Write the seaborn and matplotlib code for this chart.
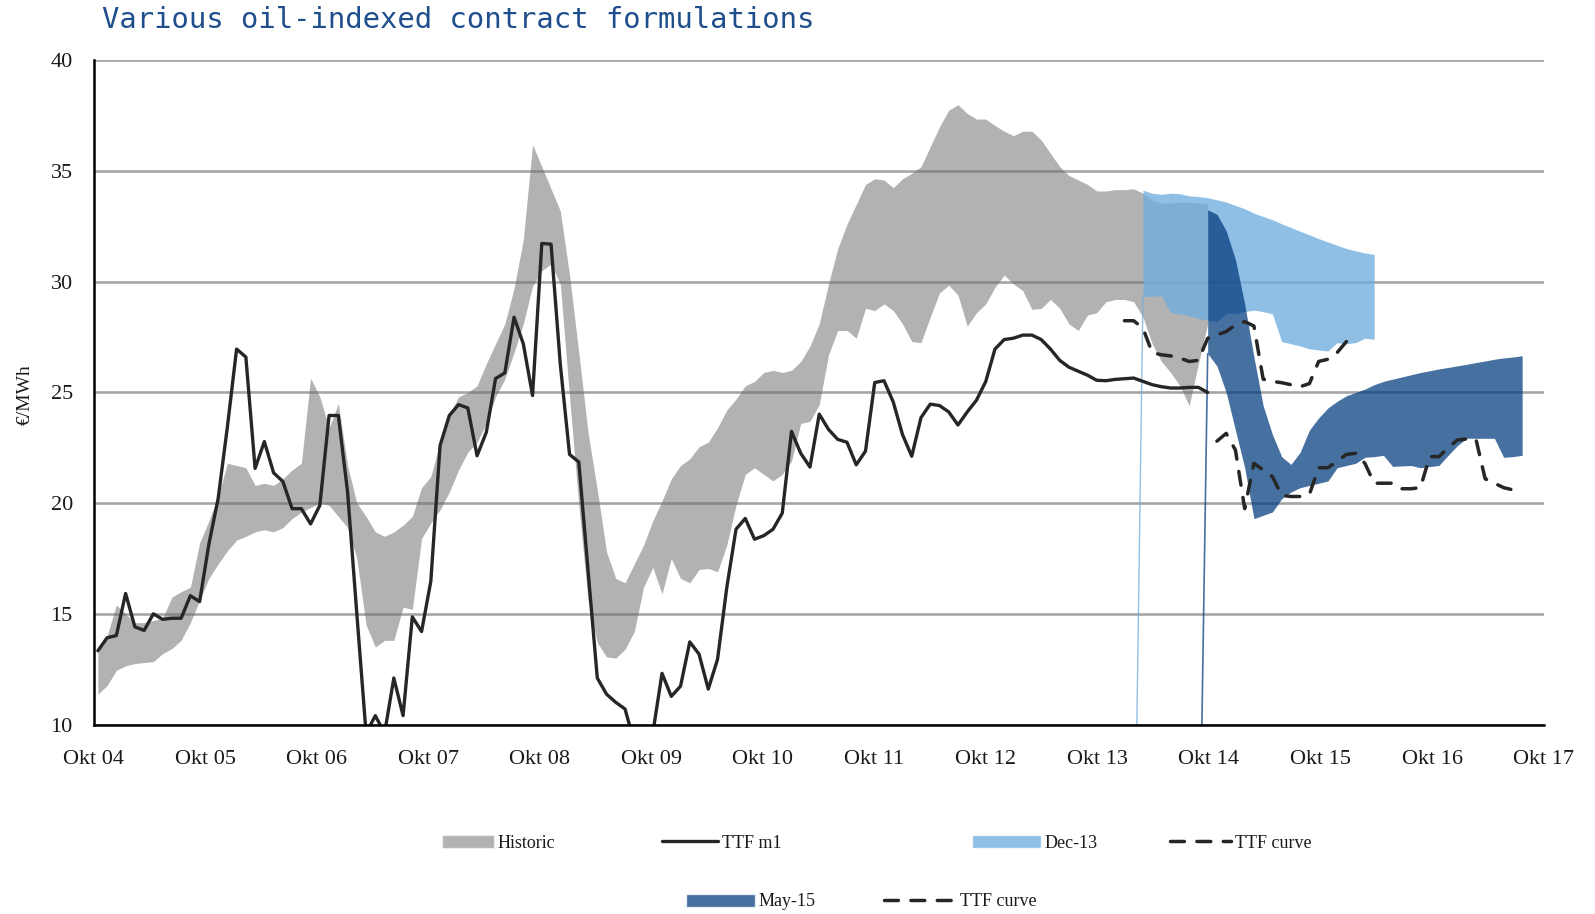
import numpy as np
import pandas as pd
import seaborn as sns
import matplotlib
matplotlib.use("Agg")
import matplotlib.pyplot as plt
from matplotlib.patches import Patch
from matplotlib.lines import Line2D

# month index 0 = October 2004, one value per month
year_labels = ["Okt 04", "Okt 05", "Okt 06", "Okt 07", "Okt 08", "Okt 09", "Okt 10",
               "Okt 11", "Okt 12", "Okt 13", "Okt 14", "Okt 15", "Okt 16", "Okt 17"]

historic_start = 0
historic_high = [
    13.4, 14.0, 15.4, 15.0, 14.6, 14.6, 14.7, 14.8, 15.75, 16.0,
    16.2, 18.2, 19.2, 20.3, 21.8, 21.7, 21.6, 20.8, 20.9, 20.8,
    21.1, 21.5, 21.8, 25.65, 24.8, 23.4, 24.5, 21.7, 20.0, 19.4,
    18.7, 18.5, 18.7, 19.0, 19.4, 20.7, 21.2, 22.75, 24.0, 24.8,
    25.0, 25.3, 26.3, 27.2, 28.1, 29.7, 31.9, 36.2, 35.2, 34.2,
    33.2, 30.3, 26.8, 23.2, 20.6, 17.8, 16.6, 16.4, 17.25, 18.1,
    19.2, 20.1, 21.1, 21.7, 22.0, 22.55, 22.75, 23.4, 24.2, 24.7,
    25.3, 25.5, 25.9, 26.0, 25.9, 26.0, 26.4, 27.1, 28.1, 29.9,
    31.5, 32.6, 33.5, 34.4, 34.65, 34.6, 34.25, 34.65, 34.9, 35.2,
    36.1, 37.0, 37.75, 38.0, 37.6, 37.35, 37.35, 37.06, 36.8, 36.6,
    36.8, 36.8, 36.4, 35.8, 35.2, 34.8, 34.6, 34.4, 34.1, 34.1,
    34.16, 34.16, 34.2, 34.0, 33.7, 33.55, 33.55, 33.6, 33.6, 33.55,
    33.5]
historic_low = [
    11.37, 11.76, 12.45, 12.65, 12.75, 12.8, 12.84, 13.2, 13.43, 13.8,
    14.6, 15.6, 16.6, 17.25, 17.84, 18.33, 18.5, 18.7, 18.8, 18.7,
    18.9, 19.3, 19.6, 19.8, 20.0, 19.9, 19.4, 18.9, 17.5, 14.5,
    13.5, 13.8, 13.8, 15.3, 15.2, 18.4, 19.1, 19.7, 20.5, 21.5,
    22.3, 22.75, 23.6, 24.8, 25.6, 26.8, 28.1, 29.8, 30.5, 30.8,
    29.9, 24.8, 19.9, 15.6, 13.7, 13.05, 13.0, 13.4, 14.2, 16.2,
    17.1, 15.9, 17.5, 16.6, 16.4, 17.0, 17.05, 16.9, 18.1, 19.9,
    21.3, 21.6, 21.3, 21.0, 21.3, 21.9, 23.6, 23.7, 24.45, 26.7,
    27.8, 27.8, 27.45, 28.8, 28.7, 29.0, 28.7, 28.1, 27.3, 27.25,
    28.4, 29.5, 29.84, 29.4, 28.0, 28.6, 29.0, 29.75, 30.3, 29.9,
    29.6, 28.75, 28.8, 29.2, 28.8, 28.1, 27.8, 28.5, 28.6, 29.1,
    29.2, 29.2, 29.1, 28.4, 27.2, 26.4, 25.9, 25.3, 24.4, 26.3,
    28.1]

ttf_m1_start = 0
ttf_m1 = [
    13.33, 13.92, 14.02, 15.92, 14.41, 14.25, 15.0, 14.75, 14.8, 14.8,
    15.82, 15.55, 18.14, 20.2, 23.43, 26.96, 26.6, 21.57, 22.78, 21.37,
    20.98, 19.75, 19.75, 19.06, 19.9, 23.96, 23.96, 20.5, 15.0, 9.6,
    10.4, 9.6, 12.1, 10.4, 14.86, 14.2, 16.47, 22.6, 23.96, 24.45,
    24.3, 22.14, 23.2, 25.63, 25.88, 28.4, 27.2, 24.86, 31.73, 31.7,
    26.27, 22.2, 21.86, 16.96, 12.1, 11.37, 11.0, 10.7, 9.2, 8.8,
    9.6, 12.31, 11.27, 11.73, 13.73, 13.18, 11.6, 12.94, 16.18, 18.82,
    19.31, 18.37, 18.53, 18.82, 19.55, 23.24, 22.25, 21.63, 24.02, 23.33,
    22.88, 22.75, 21.73, 22.35, 25.45, 25.53, 24.57, 23.1, 22.12, 23.86,
    24.47, 24.41, 24.12, 23.53, 24.12, 24.65, 25.49, 26.96, 27.39, 27.45,
    27.59, 27.59, 27.39, 26.96, 26.45, 26.14, 25.96, 25.78, 25.55, 25.53,
    25.59, 25.62, 25.65, 25.5, 25.35, 25.26, 25.2, 25.2, 25.23, 25.23,
    25.0]

dec13_start = 113
dec13_high = [34.14, 34.0, 33.95, 34.0, 33.98, 33.88, 33.85, 33.8, 33.7, 33.6,
              33.45, 33.3, 33.1, 32.95, 32.8, 32.62, 32.45, 32.28, 32.12, 31.95,
              31.8, 31.65, 31.5, 31.4, 31.3, 31.24]
dec13_low = [29.33, 29.35, 29.36, 28.6, 28.55, 28.45, 28.35, 28.27, 28.2, 28.57,
             28.57, 28.65, 28.72, 28.65, 28.55, 27.3, 27.2, 27.1, 26.97, 26.92,
             26.87, 27.25, 27.2, 27.25, 27.45, 27.4]

curve_dec13_start = 111
curve_dec13 = [28.24, 28.24, 27.9, 26.8, 26.7, 26.65, 26.55, 26.4, 26.45, 27.45,
               27.6, 27.75, 28.05, 28.2, 28.0, 25.6, 25.5, 25.44, 25.35, 25.26,
               25.4, 26.4, 26.5, 26.8, 27.3]

may15_start = 120
may15_high = [33.25, 33.05, 32.3, 31.0, 29.0, 26.6, 24.4, 23.1, 22.1, 21.75,
              22.3, 23.3, 23.85, 24.3, 24.6, 24.85, 25.0, 25.15, 25.35, 25.5,
              25.6, 25.7, 25.8, 25.9, 25.98, 26.06, 26.13, 26.2, 26.27, 26.35,
              26.42, 26.5, 26.56, 26.6, 26.66]
may15_low = [26.75, 26.2, 25.0, 23.3, 21.6, 19.3, 19.45, 19.6, 20.2, 20.5,
             20.7, 20.8, 20.9, 21.0, 21.6, 21.7, 21.8, 22.07, 22.1, 22.16,
             21.66, 21.68, 21.7, 21.6, 21.65, 21.7, 22.16, 22.6, 22.93, 22.93,
             22.93, 22.93, 22.07, 22.1, 22.16]

curve_may15_start = 121
curve_may15 = [22.8, 23.15, 22.4, 19.75, 21.8, 21.5, 21.2, 20.35, 20.3, 20.3,
               20.4, 21.6, 21.6, 21.9, 22.2, 22.25, 21.8, 20.9, 20.9, 20.9,
               20.65, 20.65, 20.7, 22.1, 22.1, 22.5, 22.85, 22.9, 22.9, 21.1,
               20.9, 20.7, 20.6]

W, H = 1595, 914
# where month 0 sits on the axis and how wide one month is (axis is in months)
X0, STEP = 0.46, 0.995

GREY = (110 / 255, 110 / 255, 110 / 255)
GREY_A = 0.53
LIGHT = (113 / 255, 174 / 255, 223 / 255)
LIGHT_A = 0.78
DARK = (0.0, 59 / 255, 125 / 255)
DARK_A = 0.73
INK = "#262626"
DASH = (0, (4, 3.6))


def months(start, values):
    return X0 + (start + np.arange(len(values))) * STEP


sns.set_theme(style="white")
plt.rcParams["font.family"] = ["Liberation Serif", "DejaVu Serif"]

fig = plt.figure(figsize=(W / 100, H / 100), dpi=100)
ax = fig.add_axes([93.6 / W, 1 - 724.5 / H, 1450 / W, 664.1 / H])

# bands
x = months(historic_start, historic_high)
ax.fill_between(x, historic_low, historic_high, color=GREY, alpha=GREY_A, lw=0, zorder=2)

x = months(dec13_start, dec13_high)
ax.fill_between(x, dec13_low, dec13_high, color=LIGHT, alpha=LIGHT_A, lw=0, zorder=3)
ax.plot([x[0] - STEP, x[0]], [0, dec13_low[0]], color=LIGHT, alpha=LIGHT_A, lw=1.0, zorder=3)

x = months(may15_start, may15_high)
ax.fill_between(x, may15_low, may15_high, color=DARK, alpha=DARK_A, lw=0, zorder=4)
ax.plot([x[0] - STEP, x[0]], [0, may15_low[0]], color=DARK, alpha=DARK_A, lw=1.2, zorder=4)

# lines
df_m1 = pd.DataFrame({"x": months(ttf_m1_start, ttf_m1), "y": ttf_m1})
sns.lineplot(data=df_m1, x="x", y="y", ax=ax, color=INK, lw=2.4, sort=False,
             estimator=None, zorder=6)

for start, vals in [(curve_dec13_start, curve_dec13), (curve_may15_start, curve_may15)]:
    d = pd.DataFrame({"x": months(start, vals), "y": vals})
    sns.lineplot(data=d, x="x", y="y", ax=ax, color=INK, lw=2.5, sort=False,
                 estimator=None, linestyle=DASH, dash_capstyle="round", zorder=6)

# axes styling
ax.set_xlim(0, 156)
ax.set_ylim(10, 40)
ax.set_xticks(np.arange(0, 157, 12))
ax.set_xticklabels(year_labels)
ax.set_yticks(np.arange(10, 41, 5))
ax.tick_params(axis="x", length=0, pad=18, labelsize=16, colors="#1a1a1a")
ax.tick_params(axis="y", length=0, pad=15, labelsize=16, colors="#1a1a1a")
ax.set_axisbelow(True)
ax.yaxis.grid(True, color="#a6a6a6", lw=1.9)
ax.xaxis.grid(False)
for side in ["top", "right"]:
    ax.spines[side].set_visible(False)
for side in ["left", "bottom"]:
    ax.spines[side].set_color("black")
    ax.spines[side].set_linewidth(1.8)
    ax.spines[side].set_zorder(7)
ax.set_xlabel("")
ax.set_ylabel("€/MWh", fontsize=14, color="#1a1a1a")
ax.yaxis.set_label_coords(-0.0415, 0.497)

fig.text(102 / W, 1 - 20.5 / H, "Various oil-indexed contract formulations",
         family=["DejaVu Sans Mono"], fontsize=20.8, color="#1F4E8C",
         ha="left", va="center")

# legend, laid out in two rows like the original
legend_font = {"family": ["Liberation Serif", "DejaVu Serif"], "size": 13}


def add_key(handle, label, x_px, y_px, hl):
    leg = fig.legend([handle], [label], loc="center left",
                     bbox_to_anchor=(x_px / W, 1 - y_px / H),
                     frameon=False, borderpad=0, borderaxespad=0,
                     handlelength=hl, handletextpad=0.2, prop=legend_font)
    for t in leg.get_texts():
        t.set_color("#1a1a1a")


dash_handle = Line2D([], [], color=INK, lw=2.5, linestyle=DASH, dash_capstyle="round")
add_key(Patch(facecolor=GREY, alpha=GREY_A), "Historic", 442, 843, 2.9)
add_key(Line2D([], [], color=INK, lw=2.4), "TTF m1", 662, 843, 3.1)
add_key(Patch(facecolor=LIGHT, alpha=LIGHT_A), "Dec-13", 972, 843, 3.8)
add_key(dash_handle, "TTF curve", 1170, 843, 3.4)
add_key(Patch(facecolor=DARK, alpha=DARK_A), "May-15", 686, 902, 3.8)
add_key(dash_handle, "TTF curve", 884, 902, 4.0)

fig.savefig("out.png", dpi=100)
